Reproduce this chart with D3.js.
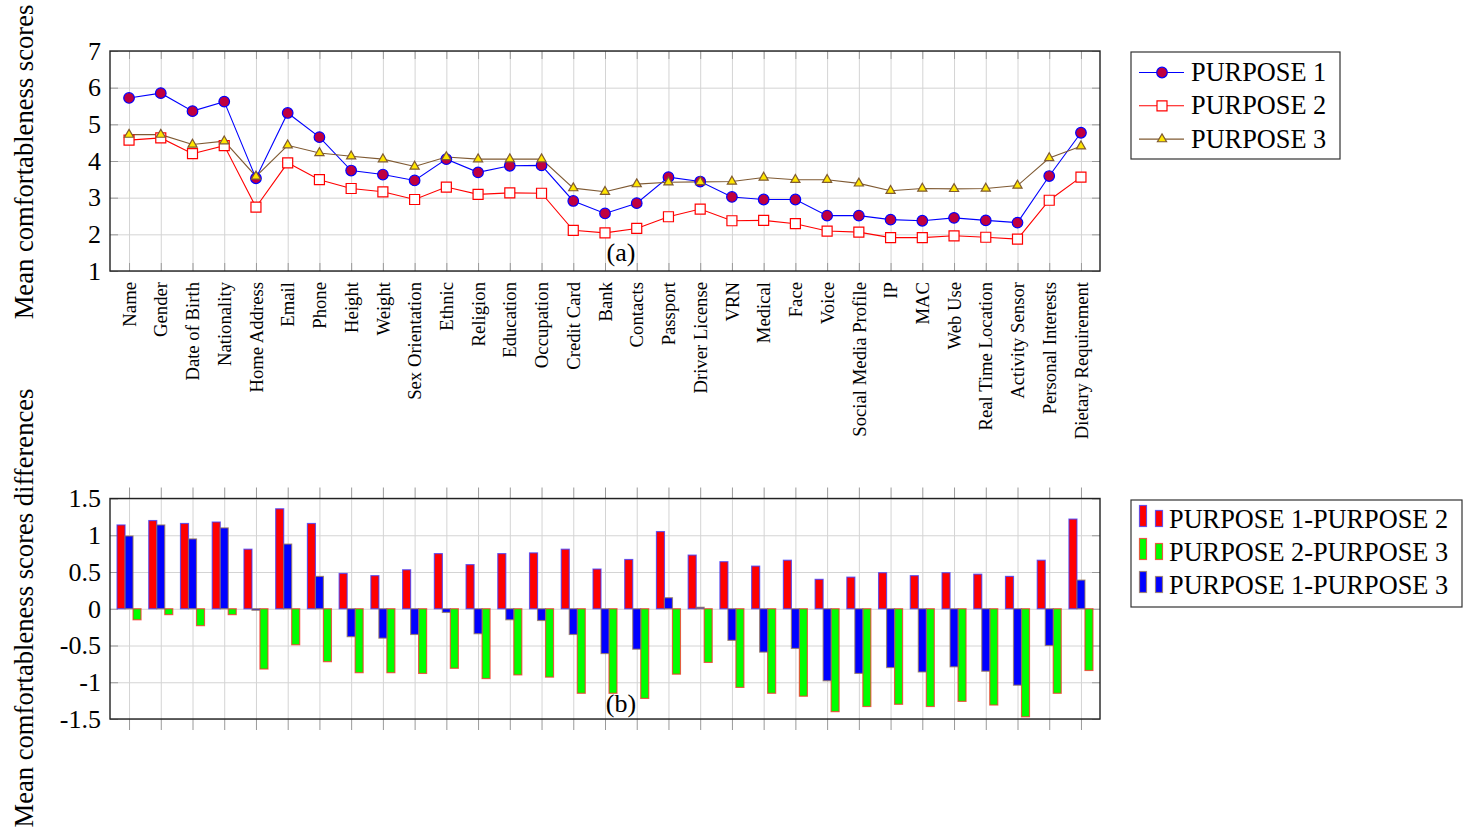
<!DOCTYPE html>
<html>
<head>
<meta charset="utf-8">
<script src="https://cdn.jsdelivr.net/npm/d3@7"></script>
<style>
  body { margin: 0; background: #fff; }
  svg { display: block; }
  text { font-family: "Liberation Serif", "Times New Roman", Times, serif; fill: #000; }
</style>
</head>
<body>
<svg id="chart" width="1464" height="832"></svg>
<script>
// Data categories
const categories = ["Name", "Gender", "Date of Birth", "Nationality", "Home Address", "Email", "Phone",
  "Height", "Weight", "Sex Orientation", "Ethnic", "Religion", "Education", "Occupation", "Credit Card",
  "Bank", "Contacts", "Passport", "Driver License", "VRN", "Medical", "Face", "Voice",
  "Social Media Profile", "IP", "MAC", "Web Use", "Real Time Location", "Activity Sensor",
  "Personal Interests", "Dietary Requirement"];

// Mean comfortableness scores per purpose
const purpose1 = [5.72, 5.85, 5.36, 5.62, 3.53, 5.31, 4.65, 3.74, 3.63, 3.47, 4.05, 3.69, 3.87, 3.88, 2.91,
  2.57, 2.85, 3.56, 3.44, 3.02, 2.95, 2.95, 2.51, 2.51, 2.40, 2.37, 2.45, 2.38, 2.32, 3.59, 4.77];
const purpose2 = [4.57, 4.63, 4.20, 4.42, 2.74, 3.95, 3.49, 3.25, 3.16, 2.95, 3.29, 3.09, 3.13, 3.12, 2.11,
  2.04, 2.16, 2.48, 2.69, 2.37, 2.38, 2.29, 2.09, 2.06, 1.91, 1.91, 1.96, 1.92, 1.87, 2.93, 3.56];
const purpose3 = [4.72, 4.72, 4.45, 4.54, 3.58, 4.43, 4.22, 4.13, 4.05, 3.85, 4.11, 4.05, 4.05, 4.05, 3.26,
  3.16, 3.37, 3.42, 3.43, 3.44, 3.55, 3.49, 3.49, 3.39, 3.19, 3.25, 3.24, 3.25, 3.33, 4.08, 4.40];

// Differences between purposes
const diff12 = [1.14, 1.20, 1.16, 1.18, 0.81, 1.36, 1.16, 0.48, 0.45, 0.53, 0.75, 0.60, 0.75, 0.76, 0.81,
  0.54, 0.67, 1.05, 0.73, 0.64, 0.58, 0.66, 0.40, 0.43, 0.49, 0.45, 0.49, 0.47, 0.44, 0.66, 1.22];
const diff23 = [-0.15, -0.08, -0.23, -0.08, -0.82, -0.49, -0.72, -0.87, -0.87, -0.88, -0.81, -0.95, -0.90, -0.93, -1.15,
  -1.15, -1.22, -0.89, -0.73, -1.07, -1.15, -1.19, -1.40, -1.33, -1.30, -1.33, -1.26, -1.31, -1.47, -1.15, -0.84];
const diff13 = [0.99, 1.14, 0.95, 1.10, -0.02, 0.88, 0.44, -0.38, -0.40, -0.35, -0.05, -0.34, -0.15, -0.16, -0.35,
  -0.61, -0.55, 0.15, 0.02, -0.43, -0.59, -0.54, -0.98, -0.88, -0.80, -0.86, -0.79, -0.85, -1.04, -0.50, 0.39];

const scoreTicks = [1, 2, 3, 4, 5, 6, 7];
const diffTicks = [-1.5, -1, -0.5, 0, 0.5, 1, 1.5];
const diffTickLabels = ["-1.5", "-1", "-0.5", "0", "0.5", "1", "1.5"];

const lineSeries = [
  { name: "PURPOSE 1", values: purpose1, line: "#0000ff", mark: "circle", fill: "#bf0040", stroke: "#0000ff" },
  { name: "PURPOSE 2", values: purpose2, line: "#ff0000", mark: "square", fill: "#ffffff", stroke: "#ff0000" },
  { name: "PURPOSE 3", values: purpose3, line: "#7f5a33", mark: "triangle", fill: "#ffe600", stroke: "#7f5a33" }
];
const barSeries = [
  { name: "PURPOSE 1-PURPOSE 2", values: diff12, fill: "#ff0000", stroke: "#3a3aff", shift: -8 },
  { name: "PURPOSE 2-PURPOSE 3", values: diff23, fill: "#00ff00", stroke: "#ff2a2a", shift: 8 },
  { name: "PURPOSE 1-PURPOSE 3", values: diff13, fill: "#0000ff", stroke: "#9a7a55", shift: 0 }
];

const svg = d3.select("#chart");
const L = 110, R = 1100;
const x = d3.scalePoint().domain(categories).range([L, R]).padding(0.6);

const symbolFor = { circle: d3.symbolCircle, square: d3.symbolSquare, triangle: d3.symbolTriangle };
const sizeFor = { circle: 88, square: 100, triangle: 36 };
const SERIF = "Liberation Serif, Times New Roman, serif";

function gridAndTicks(g, y, ticks, top, bottom, tickOutside) {
  const h = bottom - top;
  // vertical grid
  g.append("g").attr("transform", `translate(0,${bottom})`)
    .call(d3.axisBottom(x).tickSize(-h).tickFormat(""))
    .call(a => a.select(".domain").remove())
    .call(a => a.selectAll("line").attr("stroke", "#d4d4d4").attr("stroke-width", 1));
  // horizontal grid
  g.append("g").attr("transform", `translate(${L},0)`)
    .call(d3.axisLeft(y).tickValues(ticks).tickSize(-(R - L)).tickFormat(""))
    .call(a => a.select(".domain").remove())
    .call(a => a.selectAll("line").attr("stroke", "#d4d4d4").attr("stroke-width", 1));
  // tick marks
  const ts = tickOutside ? 11 : -8;
  g.append("g").attr("transform", `translate(0,${bottom})`)
    .call(d3.axisBottom(x).tickSize(ts).tickFormat(""))
    .call(a => a.select(".domain").remove())
    .call(a => a.selectAll("line").attr("stroke", "#9a9a9a"));
  g.append("g").attr("transform", `translate(0,${top})`)
    .call(d3.axisTop(x).tickSize(ts).tickFormat(""))
    .call(a => a.select(".domain").remove())
    .call(a => a.selectAll("line").attr("stroke", "#9a9a9a"));
  g.append("g").attr("transform", `translate(${L},0)`)
    .call(d3.axisLeft(y).tickValues(ticks).tickSize(-8).tickFormat(""))
    .call(a => a.select(".domain").remove())
    .call(a => a.selectAll("line").attr("stroke", "#9a9a9a"));
  g.append("g").attr("transform", `translate(${R},0)`)
    .call(d3.axisRight(y).tickValues(ticks).tickSize(-8).tickFormat(""))
    .call(a => a.select(".domain").remove())
    .call(a => a.selectAll("line").attr("stroke", "#9a9a9a"));
}

function frame(g, top, bottom) {
  g.append("rect").attr("x", L).attr("y", top).attr("width", R - L).attr("height", bottom - top)
    .attr("fill", "none").attr("stroke", "#222").attr("stroke-width", 1.4);
}

function yLabels(g, y, ticks, labels) {
  g.append("g").attr("transform", `translate(${L - 9},0)`)
    .call(d3.axisLeft(y).tickValues(ticks).tickSize(0).tickPadding(0)
      .tickFormat((d, i) => labels ? labels[i] : d))
    .call(a => a.select(".domain").remove())
    .call(a => a.selectAll("text").attr("font-size", 26).attr("font-family", SERIF).attr("fill", "#000"));
}

/* ---------- (a) line chart ---------- */
const topY0 = 51, topY1 = 271;
const yTop = d3.scaleLinear().domain([1, 7]).range([topY1, topY0]);
const ga = svg.append("g");
gridAndTicks(ga, yTop, scoreTicks, topY0, topY1, false);
yLabels(ga, yTop, scoreTicks, null);

ga.append("text").attr("x", 621).attr("y", 261).attr("text-anchor", "middle").attr("font-size", 26).text("(a)");

lineSeries.forEach(s => {
  const line = d3.line().x((d, i) => x(categories[i])).y(d => yTop(d));
  ga.append("path").datum(s.values).attr("d", line).attr("fill", "none")
    .attr("stroke", s.line).attr("stroke-width", 1.1);
});
lineSeries.forEach(s => {
  const sym = d3.symbol().type(symbolFor[s.mark]).size(sizeFor[s.mark]);
  ga.selectAll(null).data(s.values).join("path")
    .attr("transform", (d, i) => `translate(${x(categories[i])},${yTop(d)})`)
    .attr("d", sym).attr("fill", s.fill).attr("stroke", s.stroke).attr("stroke-width", 1.2);
});
frame(ga, topY0, topY1);

// category labels
ga.append("g").attr("transform", `translate(0,${topY1 + 11})`)
  .call(d3.axisBottom(x).tickSize(0).tickPadding(0))
  .call(a => a.select(".domain").remove())
  .call(a => a.selectAll("text")
    .attr("font-size", 18.7).attr("font-family", SERIF).attr("fill", "#000")
    .attr("text-anchor", "end").attr("transform", "rotate(-90)")
    .attr("x", 0).attr("y", 0).attr("dx", 0).attr("dy", "0.33em"));

svg.append("text").attr("transform", "translate(33,162) rotate(-90)").attr("text-anchor", "middle")
  .attr("font-size", 26.6).text("Mean comfortableness scores");

// legend (a)
const la = svg.append("g");
la.append("rect").attr("x", 1131).attr("y", 52).attr("width", 209).attr("height", 107)
  .attr("fill", "#fff").attr("stroke", "#333").attr("stroke-width", 1.2);
lineSeries.forEach((s, i) => {
  const cy = 72.5 + i * 33.3;
  la.append("line").attr("x1", 1139).attr("x2", 1184).attr("y1", cy).attr("y2", cy)
    .attr("stroke", s.line).attr("stroke-width", 1.1);
  la.append("path").attr("transform", `translate(1162,${cy})`)
    .attr("d", d3.symbol().type(symbolFor[s.mark]).size(sizeFor[s.mark]))
    .attr("fill", s.fill).attr("stroke", s.stroke).attr("stroke-width", 1.2);
  la.append("text").attr("x", 1191).attr("y", cy + 8.5).attr("font-size", 26.3).text(s.name);
});

/* ---------- (b) bar chart ---------- */
const botY0 = 498.5, botY1 = 719;
const yBot = d3.scaleLinear().domain([-1.5, 1.5]).range([botY1, botY0]);
const gb = svg.append("g");
gridAndTicks(gb, yBot, diffTicks, botY0, botY1, true);
yLabels(gb, yBot, diffTicks, diffTickLabels);

const barW = 8;
barSeries.forEach(s => {
  gb.selectAll(null).data(s.values).join("rect")
    .attr("x", (d, i) => x(categories[i]) + s.shift - barW / 2)
    .attr("width", barW)
    .attr("y", d => yBot(Math.max(0, d)))
    .attr("height", d => Math.abs(yBot(d) - yBot(0)))
    .attr("fill", s.fill).attr("stroke", s.stroke).attr("stroke-opacity", 0.75).attr("stroke-width", 1.2);
});
gb.append("text").attr("x", 621).attr("y", 712).attr("text-anchor", "middle").attr("font-size", 26).text("(b)");
frame(gb, botY0, botY1);

svg.append("text").attr("transform", "translate(33,608) rotate(-90)").attr("text-anchor", "middle")
  .attr("font-size", 26.6).text("Mean comfortableness scores differences");

// legend (b)
const lb = svg.append("g");
lb.append("rect").attr("x", 1131).attr("y", 500).attr("width", 331).attr("height", 107)
  .attr("fill", "#fff").attr("stroke", "#333").attr("stroke-width", 1.2);
barSeries.forEach((s, i) => {
  const base = 526.5 + i * 33;
  lb.append("rect").attr("x", 1139.5).attr("y", base - 21).attr("width", 7).attr("height", 21)
    .attr("fill", s.fill).attr("stroke", s.stroke).attr("stroke-opacity", 0.75).attr("stroke-width", 1.2);
  lb.append("rect").attr("x", 1155.5).attr("y", base - 16).attr("width", 7).attr("height", 16)
    .attr("fill", s.fill).attr("stroke", s.stroke).attr("stroke-opacity", 0.75).attr("stroke-width", 1.2);
  lb.append("text").attr("x", 1169).attr("y", base + 1).attr("font-size", 26.3).text(s.name);
});
</script>
</body>
</html>
